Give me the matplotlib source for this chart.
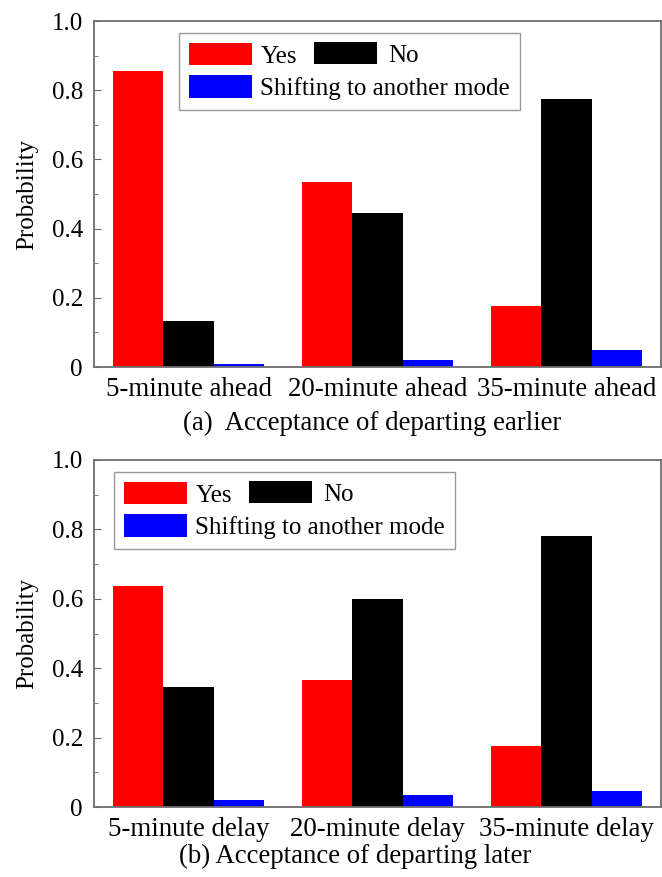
import numpy as np
import matplotlib
matplotlib.use('Agg')
import matplotlib.pyplot as plt
from matplotlib.ticker import MultipleLocator, FuncFormatter

plt.rcParams['font.family'] = ['Liberation Serif', 'DejaVu Serif']

# data
cats_a = ['5-minute ahead', '20-minute ahead', '35-minute ahead']
yes_a = [0.855, 0.534, 0.175]
no_a = [0.134, 0.445, 0.774]
shift_a = [0.010, 0.020, 0.049]

cats_b = ['5-minute delay', '20-minute delay', '35-minute delay']
yes_b = [0.636, 0.366, 0.176]
no_b = [0.345, 0.600, 0.781]
shift_b = [0.020, 0.036, 0.045]

W, H = 662, 877
fig = plt.figure(figsize=(W / 100, H / 100), dpi=100)
FS_LEG = 18
FS_X = 19.4
FS_Y = 18


def fmt(v, pos):
    return '0' if abs(v) < 1e-9 else '{:.1f}'.format(v)


def panel(left, top, width, height, cats, yes, no, shift, caption, cap_x, cap_y, leg_left):
    ax = fig.add_axes([left / W, 1 - (top + height) / H, width / W, height / H])
    x = np.arange(len(cats))
    w = 0.8 / 3
    b1 = ax.bar(x - w, yes, w, color='#ff0000')
    b2 = ax.bar(x, no, w, color='black')
    b3 = ax.bar(x + w, shift, w, color='#0000ff')
    ax.set_xlim(-0.5, 2.5)
    ax.set_ylim(0, 1.0)
    ax.set_xticks(x)
    ax.set_xticklabels(cats, fontsize=FS_X)
    ax.yaxis.set_major_locator(MultipleLocator(0.2))
    ax.yaxis.set_minor_locator(MultipleLocator(0.1))
    ax.yaxis.set_major_formatter(FuncFormatter(fmt))
    ax.tick_params(axis='y', which='both', direction='in', labelsize=FS_Y, pad=8,
                   color='#666666')
    ax.tick_params(axis='y', which='major', length=5)
    ax.tick_params(axis='y', which='minor', length=3)
    ax.tick_params(axis='x', length=0, pad=7)
    for s in ax.spines.values():
        s.set_color('#6e6e6e')
        s.set_linewidth(1.3)
    ax.set_ylabel('Probability', fontsize=FS_Y, labelpad=10)
    fig.text(cap_x / W, 1 - cap_y / H, caption, fontsize=FS_X, ha='left', va='baseline')

    # legend: Yes / Shifting in one framed box, No placed beside Yes
    frame_top = (height - 12) / height
    leg1 = ax.legend([b1, b3], ['Yes', 'Shifting to another mode'],
                     loc='upper left', bbox_to_anchor=((leg_left - left) / width, frame_top),
                     fontsize=FS_LEG, handlelength=2.5, handleheight=1.0,
                     handletextpad=0.35, labelspacing=0.3, borderpad=0.4,
                     borderaxespad=0, fancybox=False, framealpha=1,
                     edgecolor='#999999')
    leg1.get_frame().set_linewidth(1.0)
    ax.add_artist(leg1)
    fig.canvas.draw()
    hb = leg1.legend_handles[0].get_window_extent()
    inv = ax.transAxes.inverted()
    px, py = inv.transform((hb.x0 + 125, (hb.y0 + hb.y1) / 2))
    ax.legend([b2], ['No'], loc='center left', bbox_to_anchor=(px, py),
              fontsize=FS_LEG, handlelength=2.5, handleheight=1.0,
              handletextpad=0.45, borderpad=0, borderaxespad=0,
              frameon=False)
    return ax


panel(94, 21, 567, 346, cats_a, yes_a, no_a, shift_a,
      '(a)  Acceptance of departing earlier', 183, 430, 179)
panel(94, 460, 567, 347, cats_b, yes_b, no_b, shift_b,
      '(b) Acceptance of departing later', 179, 863, 114)

fig.savefig('out.png', dpi=100)
